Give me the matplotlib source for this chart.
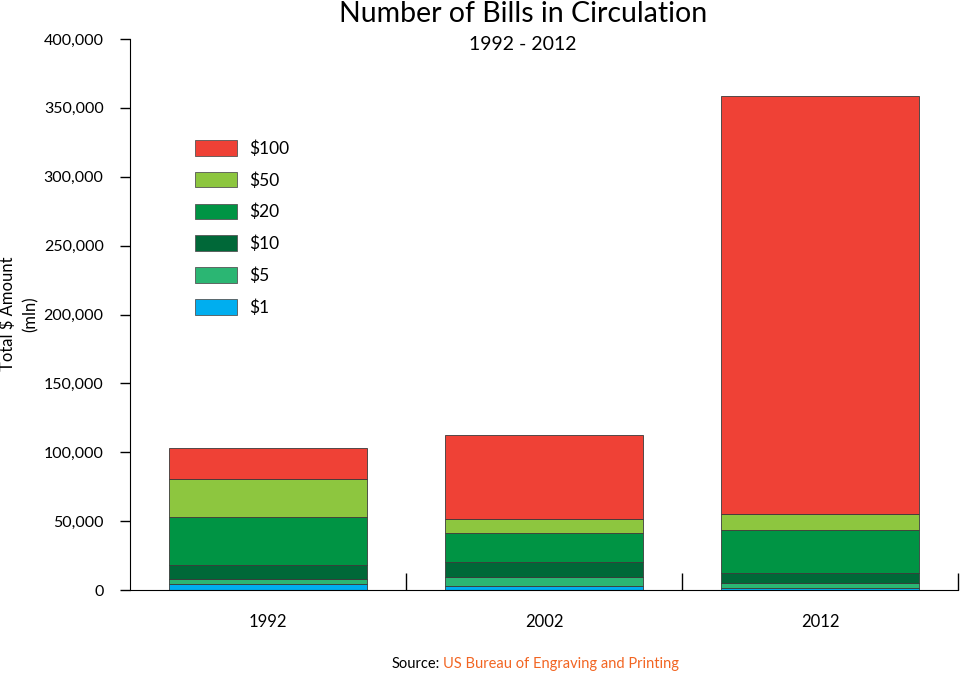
import matplotlib
matplotlib.use("Agg")
import matplotlib.pyplot as plt
from matplotlib.patches import Patch
from matplotlib.ticker import FuncFormatter, FixedLocator

# data, $ mln
years = ["1992", "2002", "2012"]
denoms = ["$1", "$5", "$10", "$20", "$50", "$100"]
bill_1 = [4000, 2800, 1600]
bill_5 = [3800, 6500, 3600]
bill_10 = [10500, 10900, 6800]
bill_20 = [35000, 21300, 31200]
bill_50 = [27600, 9900, 12300]
bill_100 = [22000, 60800, 302800]
colors = ["#00AEEF", "#2BB673", "#006838", "#009444", "#8DC63F", "#EF4136"]

plt.rcParams["font.family"] = ["Lato", "DejaVu Sans"]

fig = plt.figure(figsize=(9.6, 6.73), dpi=100)
ax = fig.add_axes([130 / 960, 1 - 590 / 673, 828 / 960, 551 / 673])

x = range(len(years))
bottom = [0, 0, 0]
series = [bill_1, bill_5, bill_10, bill_20, bill_50, bill_100]
for vals, col in zip(series, colors):
    ax.bar(x, vals, width=0.72, bottom=bottom, color=col,
           edgecolor="#3a3a3a", linewidth=0.6)
    bottom = [b + v for b, v in zip(bottom, vals)]

ax.set_xlim(-0.5, 2.5)
ax.set_ylim(0, 400000)
ax.spines["top"].set_visible(False)
ax.spines["right"].set_visible(False)

ax.set_yticks(range(0, 400001, 50000))
ax.yaxis.set_major_formatter(FuncFormatter(lambda v, p: f"{int(v):,}"))
ax.tick_params(axis="y", length=7, width=1, pad=12, labelsize=11.5)

ax.set_xticks(list(x))
ax.set_xticklabels(years)
ax.tick_params(axis="x", which="major", length=0, pad=17, labelsize=12)
ax.xaxis.set_minor_locator(FixedLocator([0.5, 1.5, 2.5]))
ax.tick_params(axis="x", which="minor", direction="in", length=12, width=1)

fig.text(19 / 960, 1 - 314 / 673, "Total $ Amount\n(mln)", rotation=90,
         ha="center", va="center", fontsize=12, multialignment="center",
         linespacing=1.5)

fig.text(523 / 960, 1 - 14 / 673, "Number of Bills in Circulation",
         ha="center", va="center", fontsize=20.5)
fig.text(523 / 960, 1 - 44 / 673, "1992 - 2012",
         ha="center", va="center", fontsize=14)

handles = [Patch(facecolor=c, edgecolor="#555555", linewidth=0.6, label=d)
           for c, d in zip(colors, denoms)][::-1]
ax.legend(handles=handles, loc="upper left", frameon=False,
          bbox_to_anchor=(195 / 960, 1 - 140 / 673), bbox_transform=fig.transFigure,
          fontsize=12.5, handlelength=2.4, handleheight=1.0, labelspacing=0.87,
          handletextpad=0.7, borderpad=0, borderaxespad=0)

fig.text(440 / 960, 1 - 664 / 673, "Source:", ha="right", va="center", fontsize=10.5)
fig.text(443 / 960, 1 - 664 / 673, "US Bureau of Engraving and Printing",
         ha="left", va="center", fontsize=10.5, color="#F26522")

fig.savefig("out.png", dpi=100, facecolor="white")
